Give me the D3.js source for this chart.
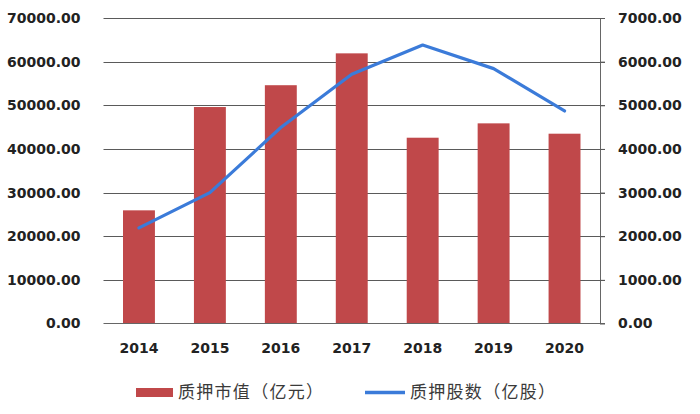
<!DOCTYPE html>
<html><head><meta charset="utf-8">
<script src="https://cdn.jsdelivr.net/npm/d3@7"></script>
<style>body{margin:0;background:#fff}svg{display:block}</style>
</head><body><svg id="c" width="700" height="414"></svg>
<script>
const years = ["2014","2015","2016","2017","2018","2019","2020"];
const pledgeValue = [25930, 49600, 54600, 61900, 42570, 45860, 43490];
const pledgeShares = [2190, 3000, 4490, 5710, 6380, 5840, 4870];
const leftTicks = [0,10000,20000,30000,40000,50000,60000,70000];
const rightTicks = [0,1000,2000,3000,4000,5000,6000,7000];
const legendLabels = ["质押市值（亿元）","质押股数（亿股）"];

const svg = d3.select("#c");
const L = 103.5, R = 600, T = 18, B = 323.5;
const x = d3.scaleBand().domain(years).range([L, R]).paddingInner(0.55).paddingOuter(0.275);
const yL = d3.scaleLinear().domain([0,70000]).range([B, T]);
const yR = d3.scaleLinear().domain([0,7000]).range([B, T]);
const font = "DejaVu Sans, sans-serif";

// gridlines
svg.append("g").selectAll("line").data(leftTicks.slice(1)).join("line")
  .attr("x1", L).attr("x2", R+5).attr("y1", d=>Math.round(yL(d))+0.5).attr("y2", d=>Math.round(yL(d))+0.5)
  .attr("stroke", "#5a5a5a").attr("stroke-width", 1);

// bars
svg.append("g").selectAll("rect").data(years).join("rect")
  .attr("x", d=>x(d)).attr("width", x.bandwidth())
  .attr("y", (d,i)=>yL(pledgeValue[i])).attr("height", (d,i)=>B - yL(pledgeValue[i]))
  .attr("fill", "#c0484a");

// baseline
svg.append("line").attr("x1", L).attr("x2", R+5).attr("y1", B).attr("y2", B)
  .attr("stroke", "#666").attr("stroke-width", 1.2);

// left axis labels
const la = svg.append("g").attr("transform", `translate(${L},0)`)
  .call(d3.axisLeft(yL).tickValues(leftTicks).tickFormat(d3.format(".2f")).tickSize(0).tickPadding(23));
la.select(".domain").remove();
la.selectAll("text").attr("font-family", font).attr("font-weight","bold").attr("font-size", 14).attr("fill", "#222");

// right axis
const ra = svg.append("g").attr("transform", `translate(${R},0)`)
  .call(d3.axisRight(yR).tickValues(rightTicks).tickFormat(d3.format(".2f")).tickSize(5).tickPadding(13));
ra.select(".domain").attr("stroke", "#666").attr("d", `M0.5,${T}V${B}`);
ra.selectAll(".tick line").attr("stroke", "#5a5a5a");
ra.selectAll("text").attr("font-family", font).attr("font-weight","bold").attr("font-size", 14).attr("fill", "#222");

// x axis labels
const xa = svg.append("g").attr("transform", `translate(0,${B})`)
  .call(d3.axisBottom(x).tickSize(0).tickPadding(20));
xa.select(".domain").remove();
xa.selectAll("text").attr("font-family", font).attr("font-weight","bold").attr("font-size", 14).attr("fill", "#222");

// line
const line = d3.line().x((d,i)=>x(years[i]) + x.bandwidth()/2).y(d=>yR(d));
svg.append("path").datum(pledgeShares).attr("d", line)
  .attr("fill","none").attr("stroke","#3b7bd9").attr("stroke-width",3.2)
  .attr("stroke-linejoin","round").attr("stroke-linecap","round");

// legend
const lg = svg.append("g");
lg.append("rect").attr("x",136).attr("y",388).attr("width",37).attr("height",9).attr("fill","#c0484a");
lg.append("text").attr("x",178).attr("y",398).text(legendLabels[0])
  .attr("textLength",145).attr("lengthAdjust","spacing")
  .attr("font-family","Noto Sans CJK SC, sans-serif").attr("font-size",17).attr("fill","#3a3a3a");
lg.append("line").attr("x1",365).attr("x2",405).attr("y1",392.5).attr("y2",392.5)
  .attr("stroke","#3b7bd9").attr("stroke-width",3.5);
lg.append("text").attr("x",410).attr("y",398).text(legendLabels[1])
  .attr("textLength",145).attr("lengthAdjust","spacing")
  .attr("font-family","Noto Sans CJK SC, sans-serif").attr("font-size",17).attr("fill","#3a3a3a");
</script></body></html>
